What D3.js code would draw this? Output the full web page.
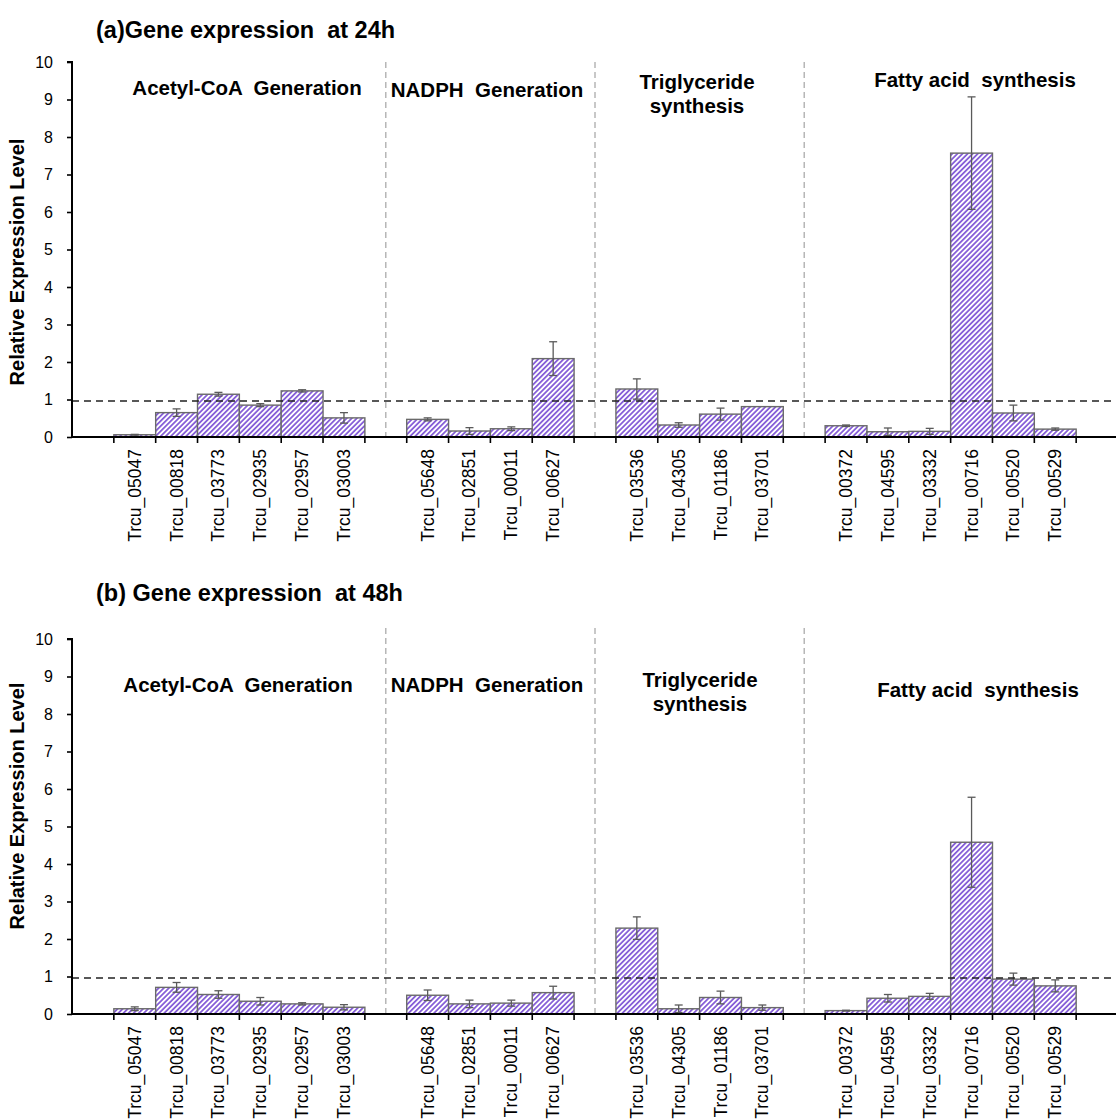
<!DOCTYPE html>
<html>
<head>
<meta charset="utf-8">
<script src="https://cdn.jsdelivr.net/npm/d3@7"></script>
<style>
  html, body { margin: 0; padding: 0; background: #fff; }
  svg { display: block; font-family: "Liberation Sans", Arial, sans-serif; }
</style>
</head>
<body>
<svg id="chart" width="1116" height="1120"></svg>
<script>
// Gene groups along the category axis
const acetylGenes = ["Trcu_05047", "Trcu_00818", "Trcu_03773", "Trcu_02935", "Trcu_02957", "Trcu_03003"];
const nadphGenes = ["Trcu_05648", "Trcu_02851", "Trcu_00011", "Trcu_00627"];
const tagGenes = ["Trcu_03536", "Trcu_04305", "Trcu_01186", "Trcu_03701"];
const fattyGenes = ["Trcu_00372", "Trcu_04595", "Trcu_03332", "Trcu_00716", "Trcu_00520", "Trcu_00529"];

// Relative expression at 24h (mean and error) in the order of the genes above
const expr24 = [0.06, 0.65, 1.14, 0.85, 1.23, 0.51,
                0.47, 0.16, 0.22, 2.09,
                1.28, 0.32, 0.61, 0.81,
                0.30, 0.14, 0.15, 7.57, 0.64, 0.21];
const err24 = [0.01, 0.10, 0.05, 0.04, 0.03, 0.14,
               0.04, 0.09, 0.05, 0.45,
               0.27, 0.06, 0.16, 0.00,
               0.02, 0.10, 0.08, 1.50, 0.21, 0.03];

// Relative expression at 48h
const expr48 = [0.14, 0.71, 0.52, 0.34, 0.27, 0.18,
                0.50, 0.27, 0.29, 0.57,
                2.29, 0.14, 0.44, 0.17,
                0.09, 0.42, 0.47, 4.58, 0.93, 0.75];
const err48 = [0.05, 0.13, 0.10, 0.10, 0.03, 0.07,
               0.14, 0.10, 0.08, 0.17,
               0.30, 0.10, 0.17, 0.07,
               0.01, 0.10, 0.08, 1.20, 0.16, 0.16];

const yTicks = [0, 1, 2, 3, 4, 5, 6, 7, 8, 9, 10];
const baselineLevel = 0.96;

const groupNames24 = [
  {lines: ["Acetyl-CoA  Generation"], x: 247, y: 95},
  {lines: ["NADPH  Generation"], x: 487, y: 97},
  {lines: ["Triglyceride", "synthesis"], x: 697, y: 89},
  {lines: ["Fatty acid  synthesis"], x: 975, y: 87}
];
const groupNames48 = [
  {lines: ["Acetyl-CoA  Generation"], x: 238, y: 692},
  {lines: ["NADPH  Generation"], x: 487, y: 692},
  {lines: ["Triglyceride", "synthesis"], x: 700, y: 687},
  {lines: ["Fatty acid  synthesis"], x: 978, y: 697}
];

// Slots: a blank slot before every group and after the last one
const groups = [acetylGenes, nadphGenes, tagGenes, fattyGenes];
const slots = [];
groups.forEach((g, i) => { slots.push("gap" + i); g.forEach(n => slots.push(n)); });
slots.push("gap" + groups.length);
const genes = groups.flat();
const dividerSlots = ["gap1", "gap2", "gap3"];

const svg = d3.select("#chart");
const font = '"Liberation Sans", Arial, sans-serif';

// fine diagonal hatch fill
const defs = svg.append("defs");
const pat = defs.append("pattern")
  .attr("id", "hatch")
  .attr("patternUnits", "userSpaceOnUse")
  .attr("width", 3.6).attr("height", 3.6)
  .attr("patternTransform", "rotate(45)");
pat.append("rect").attr("width", 3.6).attr("height", 3.6).attr("fill", "#ffffff");
pat.append("rect").attr("width", 1.8).attr("height", 3.6).attr("fill", "#8760d8");

const x = d3.scaleBand().domain(slots).range([72, 1118]).padding(0);

function panel(opts) {
  const y = d3.scaleLinear().domain([0, 10]).range([opts.y0, opts.y0 - 375]);
  const g = svg.append("g");

  // title
  g.append("text")
    .attr("x", 96).attr("y", opts.titleY)
    .attr("font-size", 23.5).attr("font-weight", "bold").attr("fill", "#000")
    .style("white-space", "pre")
    .text(opts.title);

  // group dividers
  g.selectAll("line.div").data(dividerSlots).join("line")
    .attr("x1", d => x(d) + x.bandwidth() / 2)
    .attr("x2", d => x(d) + x.bandwidth() / 2)
    .attr("y1", opts.dividerTop).attr("y2", opts.y0)
    .attr("stroke", "#ababab").attr("stroke-width", 1.3)
    .attr("stroke-dasharray", "6,4");

  // bars
  const data = genes.map((n, i) => ({name: n, v: opts.values[i], e: opts.errors[i]}));
  g.selectAll("rect.bar").data(data).join("rect")
    .attr("x", d => x(d.name))
    .attr("width", x.bandwidth())
    .attr("y", d => y(d.v))
    .attr("height", d => y(0) - y(d.v))
    .attr("fill", "url(#hatch)")
    .attr("stroke", "#6a6a6a").attr("stroke-width", 1.4);

  // error bars
  const eb = g.selectAll("g.err").data(data.filter(d => d.e > 0)).join("g")
    .attr("stroke", "#5a5a5a").attr("stroke-width", 1.3);
  eb.append("line")
    .attr("x1", d => x(d.name) + x.bandwidth() / 2).attr("x2", d => x(d.name) + x.bandwidth() / 2)
    .attr("y1", d => y(d.v + d.e)).attr("y2", d => y(Math.max(0, d.v - d.e)));
  eb.append("line")
    .attr("x1", d => x(d.name) + x.bandwidth() / 2 - 4).attr("x2", d => x(d.name) + x.bandwidth() / 2 + 4)
    .attr("y1", d => y(d.v + d.e)).attr("y2", d => y(d.v + d.e));
  eb.append("line")
    .attr("x1", d => x(d.name) + x.bandwidth() / 2 - 4).attr("x2", d => x(d.name) + x.bandwidth() / 2 + 4)
    .attr("y1", d => y(Math.max(0, d.v - d.e))).attr("y2", d => y(Math.max(0, d.v - d.e)));

  // reference level
  g.append("line")
    .attr("x1", 72).attr("x2", 1116)
    .attr("y1", y(baselineLevel)).attr("y2", y(baselineLevel))
    .attr("stroke", "#222").attr("stroke-width", 1.4)
    .attr("stroke-dasharray", "7,5");

  // y axis
  const yAxis = d3.axisLeft(y).tickValues(yTicks).tickSize(5).tickPadding(14).tickFormat(d3.format("d"));
  const ya = g.append("g").attr("transform", "translate(72,0)").call(yAxis);
  ya.select(".domain").attr("stroke", "#000").attr("stroke-width", 2).attr("d", `M-5,${y(10)}H0V${y(0)}`);
  ya.selectAll(".tick line").attr("stroke", "#000").attr("stroke-width", 1.6);
  ya.selectAll(".tick text").attr("font-size", 16).attr("font-family", font).attr("fill", "#000");

  // x axis: ticks on slot boundaries
  const boundaries = slots.slice(1);
  g.append("line")
    .attr("x1", 72).attr("x2", 1116).attr("y1", y(0)).attr("y2", y(0))
    .attr("stroke", "#000").attr("stroke-width", 2.2);
  g.selectAll("line.xt").data(boundaries).join("line")
    .attr("x1", d => x(d)).attr("x2", d => x(d))
    .attr("y1", y(0)).attr("y2", y(0) + 6)
    .attr("stroke", "#000").attr("stroke-width", 1.6);

  // gene labels
  g.selectAll("text.gl").data(genes).join("text")
    .attr("transform", d => `translate(${x(d) + x.bandwidth() / 2 + 6},${y(0) + 12}) rotate(-90)`)
    .attr("text-anchor", "end")
    .attr("font-size", 17.5).attr("fill", "#000")
    .text(d => d);

  // axis title
  g.append("text")
    .attr("transform", `translate(24,${opts.axisTitleY}) rotate(-90)`)
    .attr("text-anchor", "middle")
    .attr("font-size", 20).attr("font-weight", "bold").attr("fill", "#000")
    .text("Relative Expression Level");

  // group names
  opts.groupNames.forEach(gn => {
    const t = g.append("text")
      .attr("text-anchor", "middle")
      .attr("font-size", 20.5).attr("font-weight", "bold").attr("fill", "#000")
      .style("white-space", "pre");
    gn.lines.forEach((ln, i) => {
      t.append("tspan").attr("x", gn.x).attr("y", gn.y + i * 24).text(ln);
    });
  });
}

panel({y0: 437, title: "(a)Gene expression  at 24h", titleY: 38, values: expr24, errors: err24,
       axisTitleY: 262, dividerTop: 62, groupNames: groupNames24});
panel({y0: 1014, title: "(b) Gene expression  at 48h", titleY: 601, values: expr48, errors: err48,
       axisTitleY: 806, dividerTop: 628, groupNames: groupNames48});
</script>
</body>
</html>
